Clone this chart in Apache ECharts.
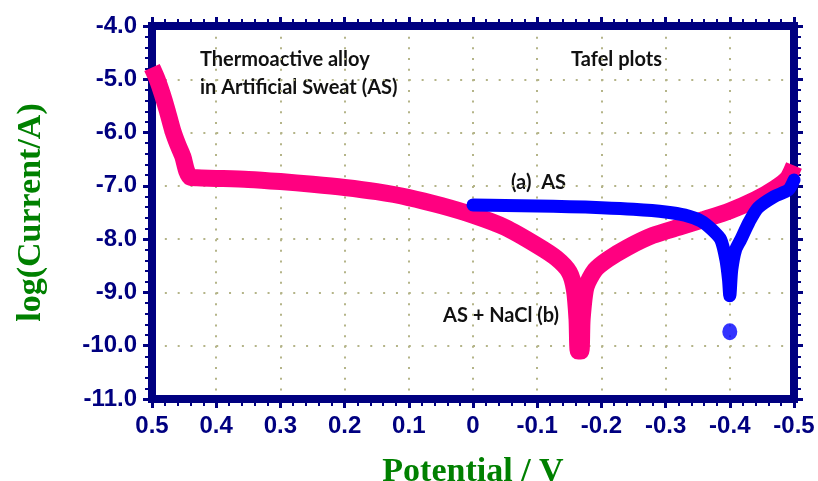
<!DOCTYPE html>
<html>
<head>
<meta charset="utf-8">
<script src="https://cdn.jsdelivr.net/npm/echarts@6/dist/echarts.min.js"></script>
<style>
  html, body { margin: 0; padding: 0; background: #ffffff; }
  #chart { width: 818px; height: 481px; }
</style>
</head>
<body>
<div id="chart"></div>
<script>
// Tafel plots: potential (V) against log(current / A)

// (b) AS + NaCl
const potentialNaCl = [0.500, 0.492, 0.484, 0.476, 0.468, 0.460, 0.452, 0.446, 0.440, 0.430,
  0.400, 0.350, 0.300, 0.250, 0.200, 0.150, 0.100, 0.050, 0.000, -0.050,
  -0.100, -0.130, -0.150, -0.158, -0.162, -0.164, -0.168, -0.170, -0.176, -0.190,
  -0.210, -0.240, -0.280, -0.320, -0.360, -0.400, -0.440, -0.470, -0.490, -0.500];
const logINaCl = [-4.78, -5.00, -5.28, -5.60, -5.95, -6.22, -6.45, -6.72, -6.84, -6.85,
  -6.86, -6.88, -6.92, -6.97, -7.03, -7.11, -7.22, -7.37, -7.55, -7.78,
  -8.12, -8.36, -8.62, -8.95, -9.50, -10.10, -10.10, -9.50, -8.90, -8.58,
  -8.38, -8.16, -7.93, -7.78, -7.63, -7.47, -7.26, -7.05, -6.86, -6.62];

// (a) AS
const potentialAS = [0.000, -0.050, -0.100, -0.150, -0.200, -0.250, -0.300, -0.330, -0.355, -0.372,
  -0.386, -0.394, -0.398, -0.400, -0.403, -0.409, -0.417, -0.430, -0.444, -0.469,
  -0.491, -0.500];
const logIAS = [-7.36, -7.37, -7.38, -7.39, -7.41, -7.44, -7.49, -7.55, -7.66, -7.82,
  -8.01, -8.39, -8.76, -9.06, -8.58, -8.20, -8.01, -7.68, -7.41, -7.20,
  -7.08, -6.89];

// isolated reading of (a) below its minimum
const potentialASOutlier = [-0.400];
const logIASOutlier = [-9.74];

// axis ticks
const xTickMin = -0.5, xTickMax = 0.5, xTickStep = 0.1;
const yTickMin = -11, yTickMax = -4, yTickStep = 1;

const pairs = (xs, ys) => xs.map((x, i) => [x, ys[i]]);

const NAVY = '#000080';
const GREEN = '#008000';
const DOT = '#b4b488';
const NOTE_FONT = 'bold 20px Lato, "Open Sans", sans-serif';

const chart = echarts.init(document.getElementById('chart'), null, { renderer: 'canvas' });

const frameAxis = {
  axisLine: { show: true, onZero: false, lineStyle: { color: NAVY, width: 8, cap: 'square' } },
  axisTick: { show: true, inside: false, length: 9, lineStyle: { color: NAVY, width: 3 } },
  minorTick: { show: true, splitNumber: 5, length: 7, lineStyle: { color: NAVY, width: 2 } }
};

const labelStyle = {
  color: NAVY,
  fontFamily: '"Liberation Sans", Arial, sans-serif',
  fontWeight: 'bold',
  fontSize: 24
};

const nameStyle = {
  color: GREEN,
  fontFamily: '"Liberation Serif", "Times New Roman", serif',
  fontWeight: 'bold',
  fontSize: 34
};

const fmt = v => (Math.abs(v) < 1e-9 ? '0' : v.toFixed(1));

const option = {
  backgroundColor: '#ffffff',
  animation: false,
  grid: { left: 152, right: 24, top: 26, bottom: 82, containLabel: false, outerBoundsMode: 'none' },
  xAxis: [
    Object.assign({}, frameAxis, {
      type: 'value', position: 'bottom', inverse: true,
      min: xTickMin, max: xTickMax, interval: xTickStep,
      name: 'Potential / V', nameLocation: 'middle', nameGap: 56,
      nameTextStyle: nameStyle,
      axisLabel: Object.assign({ margin: 15, interval: 0, formatter: fmt }, labelStyle),
      splitLine: { show: true, lineStyle: { color: DOT, width: 2, type: [2, 8.66] } }
    }),
    Object.assign({}, frameAxis, {
      type: 'value', position: 'top', inverse: true,
      min: xTickMin, max: xTickMax, interval: xTickStep,
      axisLabel: { show: false },
      splitLine: { show: false }
    })
  ],
  yAxis: [
    Object.assign({}, frameAxis, {
      type: 'value', position: 'left',
      min: yTickMin, max: yTickMax, interval: yTickStep,
      name: 'log(Current/A)', nameLocation: 'middle', nameGap: 104,
      nameTextStyle: nameStyle,
      axisLabel: Object.assign({ margin: 15, formatter: fmt }, labelStyle),
      splitLine: { show: true, lineStyle: { color: DOT, width: 2, type: [2, 10.84] } }
    }),
    Object.assign({}, frameAxis, {
      type: 'value', position: 'right',
      min: yTickMin, max: yTickMax, interval: yTickStep,
      axisLabel: { show: false },
      splitLine: { show: false }
    })
  ],
  series: [
    {
      name: 'AS + NaCl (b)',
      type: 'line',
      xAxisIndex: 0, yAxisIndex: 0,
      data: pairs(potentialNaCl, logINaCl),
      showSymbol: false,
      smooth: 0.25,
      lineStyle: { color: '#ff0080', width: 17, cap: 'butt', join: 'bevel' },
      z: 2
    },
    {
      name: '(a) AS',
      type: 'line',
      xAxisIndex: 0, yAxisIndex: 0,
      data: pairs(potentialAS, logIAS),
      showSymbol: false,
      smooth: 0.25,
      lineStyle: { color: '#0000ff', width: 13, cap: 'round', join: 'round' },
      z: 3
    },
    {
      name: '(a) AS outlier',
      type: 'scatter',
      xAxisIndex: 0, yAxisIndex: 0,
      data: pairs(potentialASOutlier, logIASOutlier),
      symbol: 'circle',
      symbolSize: [15, 17],
      itemStyle: { color: '#0000ff' },
      z: 3
    }
  ],
  graphic: [
    { type: 'text', x: 200, y: 60, style: { text: 'Thermoactive alloy', fill: '#111', font: NOTE_FONT, verticalAlign: 'middle' } },
    { type: 'text', x: 200, y: 88, style: { text: 'in Artificial Sweat (AS)', fill: '#111', font: NOTE_FONT, verticalAlign: 'middle' } },
    { type: 'text', x: 571, y: 60, style: { text: 'Tafel plots', fill: '#111', font: NOTE_FONT, verticalAlign: 'middle' } },
    { type: 'text', x: 511, y: 183, style: { text: '(a)  AS', fill: '#111', font: NOTE_FONT, verticalAlign: 'middle' } },
    { type: 'text', x: 443, y: 316, style: { text: 'AS + NaCl (b)', fill: '#111', font: NOTE_FONT, verticalAlign: 'middle' } }
  ]
};

chart.setOption(option);
</script>
</body>
</html>
